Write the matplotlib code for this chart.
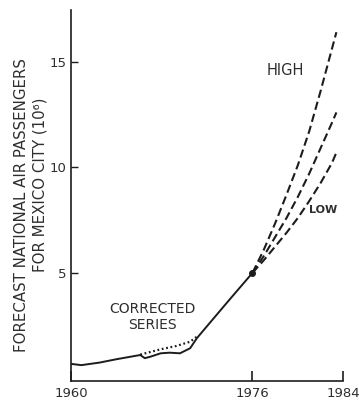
import matplotlib
matplotlib.use("Agg")
import matplotlib.pyplot as plt

# observed series, 10^6 passengers
hist_years = [1960.0, 1960.9, 1962.5, 1964.0, 1966.1, 1966.5, 1967.0, 1967.9,
              1968.7, 1969.6, 1970.5, 1971.1, 1972.5, 1974.0, 1976.0]
hist_pax = [0.69, 0.63, 0.75, 0.91, 1.11, 0.96, 1.03, 1.19,
            1.22, 1.19, 1.43, 1.91, 2.80, 3.75, 5.00]

# corrected segment of the series
corr_years = [1966.1, 1967.9, 1969.3, 1970.5, 1971.1]
corr_pax = [1.13, 1.38, 1.54, 1.74, 1.98]

# forecasts from 1976
fc_years = [1976, 1977, 1978, 1979, 1980, 1981, 1982, 1983, 1983.4]
fc_high = [5.0, 6.1, 7.35, 8.7, 10.1, 11.7, 13.6, 15.6, 16.4]
fc_mid = [5.0, 5.8, 6.7, 7.6, 8.6, 9.7, 10.9, 12.1, 12.6]
fc_low = [5.0, 5.6, 6.25, 6.9, 7.6, 8.4, 9.25, 10.2, 10.7]

x_ticks = [1960, 1976, 1984]
y_ticks = [5, 10, 15]

INK = "#1c1c1c"
TXT = "#2e2e2e"

plt.rcParams["font.family"] = ["DejaVu Sans"]

fig = plt.figure(figsize=(3.59, 4.01), dpi=100)
ax = fig.add_axes([0.198, 0.051, 0.758, 0.924])

ax.plot(hist_years, hist_pax, color=INK, lw=1.4, solid_capstyle="round")
ax.plot(corr_years, corr_pax, color=INK, lw=1.6, linestyle=(0, (0.8, 1.2)))
for ys in (fc_high, fc_mid, fc_low):
    ax.plot(fc_years, ys, color=INK, lw=1.5, linestyle=(0, (4, 2)))
ax.plot([1976], [5.0], "o", color=INK, ms=4)

ax.set_xlim(1960, 1984)
ax.set_ylim(-0.1, 17.45)
ax.set_xticks(x_ticks)
ax.set_yticks(y_ticks)
ax.tick_params(axis="x", direction="in", length=7, width=1.2, pad=5,
               labelsize=9.5, colors=INK, labelcolor=TXT)
ax.tick_params(axis="y", direction="in", length=5, width=1.0, pad=3,
               labelsize=9.5, colors=INK, labelcolor=TXT)
for side in ("top", "right"):
    ax.spines[side].set_visible(False)
for side in ("left", "bottom"):
    ax.spines[side].set_linewidth(1.2)
    ax.spines[side].set_color(INK)

ax.text(1978.9, 14.6, "HIGH", ha="center", va="center", fontsize=10.5, color=TXT)
ax.text(1982.2, 7.98, "LOW", ha="center", va="center", fontsize=8,
        fontweight="bold", color=TXT)
ax.text(1967.15, 2.92, "CORRECTED\nSERIES", ha="center", va="center",
        fontsize=10, color=TXT, linespacing=1.15)

fig.text(22 / 359, 1 - 205 / 401, "FORECAST NATIONAL AIR PASSENGERS",
         rotation=90, ha="center", va="center", fontsize=10.8, color=TXT)
fig.text(40 / 359, 1 - 185 / 401, "FOR MEXICO CITY (10⁶)",
         rotation=90, ha="center", va="center", fontsize=10.8, color=TXT)

fig.savefig("out.png", dpi=100, facecolor="white")
